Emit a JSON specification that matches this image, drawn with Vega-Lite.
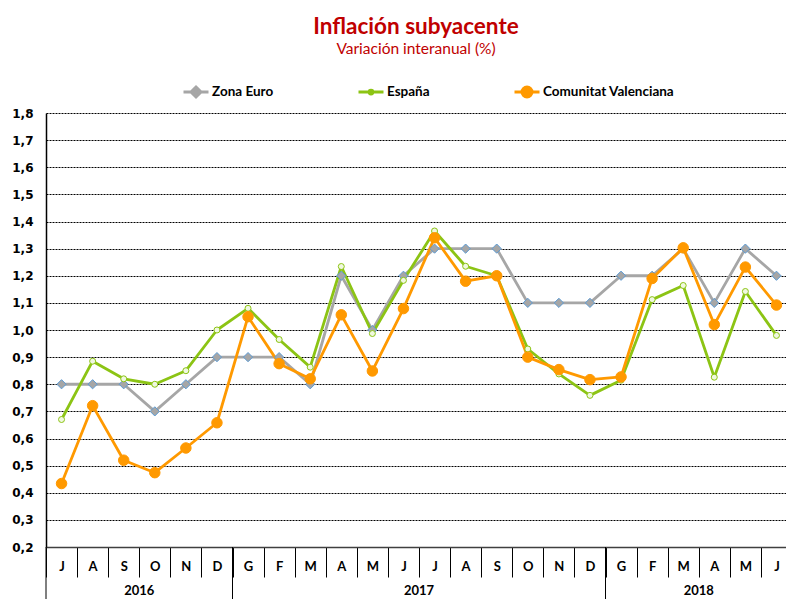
{
  "$schema": "https://vega.github.io/schema/vega-lite/v6.json",
  "autosize": "none",
  "padding": {"left": 46, "top": 113, "right": 0, "bottom": 52},
  "width": 740,
  "height": 434,
  "background": "#ffffff",
  "config": {"view": {"stroke": null}},
  "title": {
    "text": "Inflación subyacente",
    "subtitle": "Variación interanual (%)",
    "color": "#C00000",
    "subtitleColor": "#C00000",
    "font": "Lato",
    "subtitleFont": "Lato",
    "fontSize": 22.5,
    "subtitleFontSize": 15.5,
    "fontWeight": "bold",
    "subtitleFontWeight": "normal",
    "anchor": "middle",
    "frame": "group",
    "offset": 21,
    "subtitlePadding": 3
  },
  "datasets": {
    "series": [
      {"mes": "Jl16", "s": "Zona Euro", "v": 0.8},
      {"mes": "Ag16", "s": "Zona Euro", "v": 0.8},
      {"mes": "S16", "s": "Zona Euro", "v": 0.8},
      {"mes": "O16", "s": "Zona Euro", "v": 0.7},
      {"mes": "N16", "s": "Zona Euro", "v": 0.8},
      {"mes": "D16", "s": "Zona Euro", "v": 0.9},
      {"mes": "G17", "s": "Zona Euro", "v": 0.9},
      {"mes": "F17", "s": "Zona Euro", "v": 0.9},
      {"mes": "M17", "s": "Zona Euro", "v": 0.8},
      {"mes": "A17", "s": "Zona Euro", "v": 1.2},
      {"mes": "My17", "s": "Zona Euro", "v": 1.0},
      {"mes": "Jn17", "s": "Zona Euro", "v": 1.2},
      {"mes": "Jl17", "s": "Zona Euro", "v": 1.3},
      {"mes": "Ag17", "s": "Zona Euro", "v": 1.3},
      {"mes": "S17", "s": "Zona Euro", "v": 1.3},
      {"mes": "O17", "s": "Zona Euro", "v": 1.1},
      {"mes": "N17", "s": "Zona Euro", "v": 1.1},
      {"mes": "D17", "s": "Zona Euro", "v": 1.1},
      {"mes": "G18", "s": "Zona Euro", "v": 1.2},
      {"mes": "F18", "s": "Zona Euro", "v": 1.2},
      {"mes": "M18", "s": "Zona Euro", "v": 1.3},
      {"mes": "A18", "s": "Zona Euro", "v": 1.1},
      {"mes": "My18", "s": "Zona Euro", "v": 1.3},
      {"mes": "Jn18", "s": "Zona Euro", "v": 1.2},
      {"mes": "Jl16", "s": "España", "v": 0.67},
      {"mes": "Ag16", "s": "España", "v": 0.885},
      {"mes": "S16", "s": "España", "v": 0.82},
      {"mes": "O16", "s": "España", "v": 0.8},
      {"mes": "N16", "s": "España", "v": 0.85},
      {"mes": "D16", "s": "España", "v": 1.0},
      {"mes": "G17", "s": "España", "v": 1.08},
      {"mes": "F17", "s": "España", "v": 0.965},
      {"mes": "M17", "s": "España", "v": 0.863},
      {"mes": "A17", "s": "España", "v": 1.234},
      {"mes": "My17", "s": "España", "v": 0.987},
      {"mes": "Jn17", "s": "España", "v": 1.183},
      {"mes": "Jl17", "s": "España", "v": 1.365},
      {"mes": "Ag17", "s": "España", "v": 1.235},
      {"mes": "S17", "s": "España", "v": 1.2},
      {"mes": "O17", "s": "España", "v": 0.93},
      {"mes": "N17", "s": "España", "v": 0.838},
      {"mes": "D17", "s": "España", "v": 0.759},
      {"mes": "G18", "s": "España", "v": 0.815},
      {"mes": "F18", "s": "España", "v": 1.112},
      {"mes": "M18", "s": "España", "v": 1.164},
      {"mes": "A18", "s": "España", "v": 0.826},
      {"mes": "My18", "s": "España", "v": 1.142},
      {"mes": "Jn18", "s": "España", "v": 0.98},
      {"mes": "Jl16", "s": "Comunitat Valenciana", "v": 0.434},
      {"mes": "Ag16", "s": "Comunitat Valenciana", "v": 0.721},
      {"mes": "S16", "s": "Comunitat Valenciana", "v": 0.52},
      {"mes": "O16", "s": "Comunitat Valenciana", "v": 0.474},
      {"mes": "N16", "s": "Comunitat Valenciana", "v": 0.565},
      {"mes": "D16", "s": "Comunitat Valenciana", "v": 0.658},
      {"mes": "G17", "s": "Comunitat Valenciana", "v": 1.049},
      {"mes": "F17", "s": "Comunitat Valenciana", "v": 0.876},
      {"mes": "M17", "s": "Comunitat Valenciana", "v": 0.82},
      {"mes": "A17", "s": "Comunitat Valenciana", "v": 1.056},
      {"mes": "My17", "s": "Comunitat Valenciana", "v": 0.849},
      {"mes": "Jn17", "s": "Comunitat Valenciana", "v": 1.079},
      {"mes": "Jl17", "s": "Comunitat Valenciana", "v": 1.34},
      {"mes": "Ag17", "s": "Comunitat Valenciana", "v": 1.18},
      {"mes": "S17", "s": "Comunitat Valenciana", "v": 1.2},
      {"mes": "O17", "s": "Comunitat Valenciana", "v": 0.9},
      {"mes": "N17", "s": "Comunitat Valenciana", "v": 0.854},
      {"mes": "D17", "s": "Comunitat Valenciana", "v": 0.817},
      {"mes": "G18", "s": "Comunitat Valenciana", "v": 0.827},
      {"mes": "F18", "s": "Comunitat Valenciana", "v": 1.19},
      {"mes": "M18", "s": "Comunitat Valenciana", "v": 1.303},
      {"mes": "A18", "s": "Comunitat Valenciana", "v": 1.02},
      {"mes": "My18", "s": "Comunitat Valenciana", "v": 1.232},
      {"mes": "Jn18", "s": "Comunitat Valenciana", "v": 1.092}
    ],
    "years": [
      {"year": "2016", "center": "S16", "start": "Jl16"},
      {"year": "2017", "center": "Jn17", "start": "G17"},
      {"year": "2018", "center": "M18", "start": "G18"}
    ]
  },
  "encoding": {
    "x": {
      "field": "mes",
      "type": "ordinal",
      "scale": {
        "domain": ["Jl16","Ag16","S16","O16","N16","D16","G17","F17","M17","A17","My17","Jn17","Jl17","Ag17","S17","O17","N17","D17","G18","F18","M18","A18","My18","Jn18"],
        "range": [0, 746],
        "paddingInner": 0,
        "paddingOuter": 0
      },
      "axis": {
        "title": null,
        "labelExpr": "substring(datum.label, 0, 1)",
        "labelAngle": 0,
        "labelFont": "Lato",
        "labelFontSize": 13,
        "labelFontWeight": "bold",
        "labelColor": "#000000",
        "labelBaseline": "middle",
        "labelPadding": -10.5,
        "labelOverlap": false,
        "tickBand": "extent",
        "tickSize": 30,
        "tickColor": "#000000",
        "tickWidth": 1,
        "domainColor": "#404040",
        "domainWidth": 1.5,
        "grid": false
      }
    }
  },
  "layer": [
    {
      "data": {"name": "series"},
      "mark": {"type": "line", "strokeCap": "round", "strokeJoin": "round", "strokeWidth": 2.8},
      "encoding": {
        "y": {
          "field": "v",
          "type": "quantitative",
          "scale": {"domain": [0.2, 1.8], "nice": false, "zero": false},
          "axis": {
            "title": null,
            "values": [0.2,0.3,0.4,0.5,0.6,0.7,0.8,0.9,1.0,1.1,1.2,1.3,1.4,1.5,1.6,1.7,1.8],
            "tickCount": 40,
            "labelExpr": "replace(format(datum.value, '.1f'), '.', ',')",
            "labelFont": "DejaVu Sans",
            "labelFontSize": 12,
            "labelFontWeight": "bold",
            "labelColor": "#000000",
            "labelPadding": 13,
            "labelOverlap": false,
            "labelBound": false,
            "ticks": false,
            "domainColor": "#000000",
            "domainWidth": 1.5,
            "grid": true,
            "gridColor": "#000000",
            "gridDash": [2, 1],
            "gridWidth": 1
          }
        },
        "color": {
          "field": "s",
          "type": "nominal",
          "scale": {
            "domain": ["Zona Euro", "España", "Comunitat Valenciana"],
            "range": ["#A6A6A6", "#8CC414", "#FF9900"]
          },
          "legend": {
            "orient": "none",
            "legendX": 136,
            "legendY": -35,
            "direction": "horizontal",
            "title": null,
            "symbolSize": 625,
            "symbolStrokeWidth": 3,
            "labelFont": "Lato",
            "labelFontSize": 13.5,
            "labelFontWeight": "bold",
            "labelColor": "#000000",
            "labelOffset": 2,
            "columnPadding": 78,
            "encode": {
              "symbols": {
                "update": {
                  "shape": {"signal": "datum.value === 'Zona Euro' ? 'M-1,0L1,0M0,-0.4L0.4,0L0,0.4L-0.4,0Z' : datum.value === 'España' ? 'M0,-0.4L0,-0.4M0,0.4L0,0.4M-1,0L1,0M-0.15,0A0.15,0.15 0 1,0 0.15,0A0.15,0.15 0 1,0 -0.15,0Z' : 'M-1,0L1,0M-0.4,0A0.4,0.4 0 1,0 0.4,0A0.4,0.4 0 1,0 -0.4,0Z'"},
                  "fill": {"signal": "datum.value === 'Zona Euro' ? '#A6A6A6' : datum.value === 'España' ? '#E8F5C8' : '#FF9900'"},
                  "stroke": {"signal": "datum.value === 'Zona Euro' ? '#A6A6A6' : datum.value === 'España' ? '#8CC414' : '#FF9900'"},
                  "strokeWidth": {"value": 3},
                  "strokeCap": {"value": "butt"},
                  "size": {"value": 625},
                  "opacity": {"value": 1}
                }
              }
            }
          }
        }
      }
    },
    {
      "data": {"name": "series"},
      "transform": [{"filter": "datum.s === 'Zona Euro'"}],
      "mark": {"type": "point", "shape": "diamond", "size": 85, "filled": true, "fill": "#A6A6A6", "stroke": "#5B9BD5", "strokeWidth": 1, "opacity": 1},
      "encoding": {"y": {"field": "v", "type": "quantitative"}}
    },
    {
      "data": {"name": "series"},
      "transform": [{"filter": "datum.s === 'España'"}],
      "mark": {"type": "point", "shape": "circle", "size": 36, "filled": true, "fill": "#F0F8E0", "stroke": "#8CC414", "strokeWidth": 1, "opacity": 1},
      "encoding": {"y": {"field": "v", "type": "quantitative"}}
    },
    {
      "data": {"name": "series"},
      "transform": [{"filter": "datum.s === 'Comunitat Valenciana'"}],
      "mark": {"type": "point", "shape": "circle", "size": 110, "filled": true, "fill": "#FF9900", "stroke": "#FF9900", "strokeWidth": 1, "opacity": 1},
      "encoding": {"y": {"field": "v", "type": "quantitative"}}
    },
    {
      "data": {"name": "years"},
      "mark": {"type": "rule", "color": "#000000", "strokeWidth": 1},
      "encoding": {
        "x": {"field": "start", "type": "ordinal", "bandPosition": 0},
        "y": {"datum": 0.2},
        "y2": {"datum": 0.0}
      }
    },
    {
      "data": {"name": "years"},
      "mark": {"type": "text", "font": "Lato", "fontSize": 13, "fontWeight": "bold", "color": "#000000", "baseline": "middle", "align": "center", "dy": 44},
      "encoding": {
        "x": {"field": "center", "type": "ordinal", "bandPosition": 1},
        "y": {"datum": 0.2},
        "text": {"field": "year"}
      }
    }
  ]
}
